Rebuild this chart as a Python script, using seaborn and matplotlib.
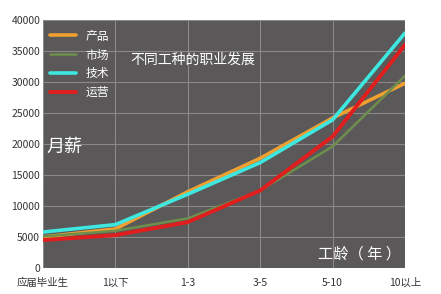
import matplotlib
matplotlib.use("Agg")
import matplotlib.pyplot as plt
import seaborn as sns
import pandas as pd

categories = ["应届毕业生", "1以下", "1-3", "3-5", "5-10", "10以上"]
product = [5000, 6300, 12300, 17700, 24200, 29800]
market = [5100, 6000, 8000, 12500, 19600, 31000]
tech = [5800, 7000, 11900, 17000, 23900, 37900]
ops = [4500, 5300, 7400, 12500, 21200, 36000]
series_names = ["产品", "市场", "技术", "运营"]
colors = ["#F0A030", "#6E8F4C", "#3EE8E0", "#E01E1E"]
widths = [2.6, 1.8, 2.6, 2.8]

rows = []
for name, vals in zip(series_names, [product, market, tech, ops]):
    for i, v in enumerate(vals):
        rows.append({"x": i, "salary": v, "series": name})
df = pd.DataFrame(rows)

sns.set_theme(style="white")
plt.rcParams['font.family'] = ['Noto Sans CJK SC', 'DejaVu Sans']

fig = plt.figure(figsize=(4.41, 2.94), dpi=100)
ax = fig.add_axes([43/441, 1 - 268/294, (405-43)/441, (268-20)/294])
ax.set_facecolor("#5A5859")

for name, c, w in zip(series_names, colors, widths):
    sns.lineplot(data=df[df.series == name], x="x", y="salary", color=c,
                 linewidth=w, ax=ax, label=name)

ax.set_xlim(0, 5)
ax.set_ylim(0, 40000)
ax.set_xticks(range(len(categories)))
ax.set_xticklabels(categories)
ax.set_yticks(range(0, 40001, 5000))
ax.tick_params(axis="y", labelsize=7.5, colors="#333333", length=0, pad=2)
ax.tick_params(axis="x", labelsize=7.5, colors="#333333", length=0, pad=7)
ax.grid(True, color="#8A8889", linewidth=0.8)
for s in ax.spines.values():
    s.set_visible(False)
ax.set_xlabel("")
ax.set_ylabel("")

leg = ax.legend(loc="upper left", frameon=False, fontsize=8.5, labelcolor="white",
                handlelength=2.2, labelspacing=0.5, borderaxespad=0.2,
                bbox_to_anchor=(0.0, 0.99))

ax.text(0.24, 0.84, "不同工种的职业发展", transform=ax.transAxes, color="white",
        fontsize=10, va="center", ha="left")
ax.text(0.01, 0.49, "月薪", transform=ax.transAxes, color="white",
        fontsize=13, va="center", ha="left")
ax.text(0.99, 0.055, "工龄（ 年 ）", transform=ax.transAxes, color="white",
        fontsize=11, va="center", ha="right")

fig.savefig("out.png", dpi=100)
